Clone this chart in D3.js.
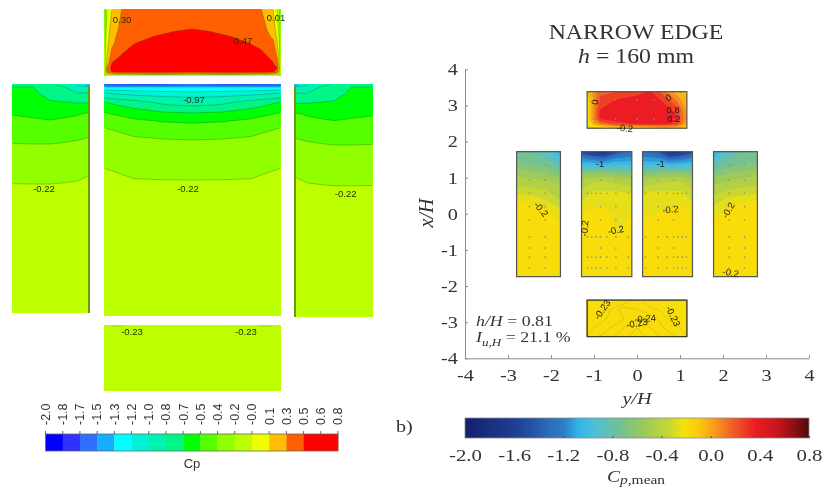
<!DOCTYPE html>
<html>
<head>
<meta charset="utf-8">
<script src="https://cdn.jsdelivr.net/npm/d3@7/dist/d3.min.js"></script>
<style>
  html, body { margin: 0; padding: 0; background: #fff; }
  svg { display: block; filter: blur(0.55px); }
</style>
</head>
<body>
<div id="chart"></div>
<script>
// ---- left panel data: Cp on each face, rows top to bottom
var simLevels = [-2, -1.835, -1.671, -1.506, -1.341, -1.176, -1.012, -0.847, -0.682, -0.518, -0.353, -0.188, -0.024, 0.141, 0.306, 0.471];
var simColors = ['#0000ff', '#3030ff', '#2f6fff', '#15aeff', '#00ffff', '#00f2d4', '#00f2b0', '#00f586', '#00ff00', '#55ff00', '#92ff00', '#bcff00', '#eeff00', '#ffbe00', '#ff5f00', '#ff0000'];
var simBarTicks = ['-2.0', '-1.8', '-1.7', '-1.5', '-1.3', '-1.2', '-1.0', '-0.8', '-0.7', '-0.5', '-0.4', '-0.2', '-0.0', '0.1', '0.3', '0.5', '0.6', '0.8'];

var roofCols = [0, 1.5, 3, 8, 18, 30, 50, 70, 88, 106, 126, 147, 157, 169, 173, 175.5, 177];
var roofRows = [0, 21, 24, 28, 36, 46, 54, 59, 63, 65, 66.5, 67];
var roofCp = [
  [-0.45, -0.20, -0.02, 0.145, 0.31, 0.33, 0.35, 0.38, 0.39, 0.38, 0.35, 0.33, 0.31, 0.145, -0.02, -0.20, -0.45],
  [-0.40, -0.08, 0.05, 0.22, 0.36, 0.41, 0.44, 0.465, 0.475, 0.465, 0.44, 0.41, 0.38, 0.23, 0.08, -0.10, -0.40],
  [-0.40, -0.07, 0.06, 0.235, 0.375, 0.42, 0.455, 0.478, 0.485, 0.478, 0.455, 0.42, 0.395, 0.25, 0.10, -0.08, -0.40],
  [-0.40, -0.05, 0.07, 0.25, 0.39, 0.44, 0.475, 0.495, 0.50, 0.495, 0.475, 0.44, 0.41, 0.28, 0.12, -0.05, -0.40],
  [-0.37, -0.02, 0.10, 0.28, 0.43, 0.475, 0.51, 0.525, 0.53, 0.525, 0.51, 0.475, 0.45, 0.37, 0.18, -0.02, -0.38],
  [-0.33, 0.02, 0.14, 0.38, 0.475, 0.51, 0.54, 0.55, 0.555, 0.55, 0.54, 0.51, 0.495, 0.44, 0.28, 0.03, -0.35],
  [-0.30, 0.05, 0.20, 0.475, 0.51, 0.54, 0.56, 0.565, 0.57, 0.565, 0.56, 0.54, 0.52, 0.475, 0.38, 0.10, -0.30],
  [-0.30, 0.10, 0.35, 0.52, 0.53, 0.56, 0.57, 0.57, 0.57, 0.57, 0.57, 0.56, 0.54, 0.51, 0.475, 0.12, -0.30],
  [-0.30, 0.10, 0.33, 0.48, 0.49, 0.50, 0.50, 0.50, 0.48, 0.50, 0.50, 0.50, 0.50, 0.48, 0.40, 0.10, -0.30],
  [-0.30, 0.00, 0.10, 0.20, 0.25, 0.26, 0.28, 0.26, 0.20, 0.26, 0.28, 0.26, 0.25, 0.20, 0.10, 0.00, -0.30],
  [-0.35, -0.20, -0.10, -0.05, -0.03, -0.05, -0.10, -0.10, -0.12, -0.10, -0.10, -0.05, -0.03, -0.05, -0.10, -0.20, -0.35],
  [-0.45, -0.40, -0.38, -0.38, -0.38, -0.38, -0.38, -0.37, -0.36, -0.37, -0.38, -0.38, -0.38, -0.38, -0.38, -0.40, -0.45]
];

var centerCols = [0, 30, 60, 88.5, 117, 147, 177];
var centerRows = [0, 3, 6, 9, 14, 18, 22, 29, 39, 44, 56, 81, 96, 140, 232];
var centerCp = [
  [-1.70, -1.72, -1.75, -1.62, -1.75, -1.72, -1.70],
  [-1.34, -1.34, -1.34, -1.34, -1.34, -1.34, -1.34],
  [-1.18, -1.21, -1.23, -1.24, -1.23, -1.21, -1.18],
  [-1.01, -1.08, -1.12, -1.14, -1.12, -1.08, -1.01],
  [-0.85, -0.92, -0.97, -0.99, -0.97, -0.92, -0.85],
  [-0.68, -0.80, -0.89, -0.92, -0.89, -0.80, -0.68],
  [-0.62, -0.73, -0.82, -0.85, -0.82, -0.73, -0.62],
  [-0.51, -0.60, -0.66, -0.68, -0.66, -0.60, -0.51],
  [-0.41, -0.46, -0.50, -0.52, -0.50, -0.46, -0.41],
  [-0.35, -0.41, -0.45, -0.47, -0.45, -0.41, -0.35],
  [-0.30, -0.33, -0.345, -0.353, -0.345, -0.33, -0.30],
  [-0.19, -0.22, -0.245, -0.25, -0.245, -0.22, -0.19],
  [-0.18, -0.185, -0.187, -0.188, -0.187, -0.185, -0.18],
  [-0.16, -0.165, -0.165, -0.165, -0.165, -0.165, -0.16],
  [-0.15, -0.15, -0.15, -0.15, -0.15, -0.15, -0.15]
];

var wallCols = [0, 21, 38, 51, 65, 78];
var wallRows = [0, 3, 9, 19, 30, 36, 53, 60, 91, 100, 140, 229];
var wallCp = [
  [-0.75, -0.72, -0.85, -0.90, -1.05, -1.60],
  [-0.68, -0.68, -0.82, -0.83, -0.97, -1.01],
  [-0.645, -0.65, -0.75, -0.77, -0.847, -0.847],
  [-0.59, -0.60, -0.66, -0.67, -0.682, -0.682],
  [-0.525, -0.54, -0.57, -0.56, -0.53, -0.49],
  [-0.49, -0.505, -0.518, -0.50, -0.485, -0.455],
  [-0.39, -0.40, -0.40, -0.385, -0.37, -0.353],
  [-0.35, -0.353, -0.353, -0.345, -0.335, -0.32],
  [-0.22, -0.225, -0.225, -0.21, -0.205, -0.188],
  [-0.187, -0.188, -0.188, -0.185, -0.18, -0.178],
  [-0.165, -0.165, -0.165, -0.165, -0.165, -0.165],
  [-0.15, -0.15, -0.15, -0.15, -0.15, -0.15]
];

var floorCols = [0, 10, 18, 32, 60, 88, 117, 145, 156, 166, 177];
var floorRows = [0, 2, 66];
var floorCp = [
  [-0.15, -0.21, -0.21, -0.15, -0.16, -0.18, -0.16, -0.15, -0.21, -0.21, -0.15],
  [-0.15, -0.16, -0.16, -0.15, -0.15, -0.15, -0.15, -0.15, -0.16, -0.16, -0.15],
  [-0.14, -0.14, -0.14, -0.14, -0.14, -0.14, -0.14, -0.14, -0.14, -0.14, -0.14]
];

var simLabels = [
  ['0.30', 'roof', 18, 11], ['0.01', 'roof', 172, 9], ['0.47', 'roof', 139, 32],
  ['-0.97', 'center', 90, 16], ['-0.22', 'center', 84, 105],
  ['-0.22', 'left', 32, 105], ['-0.22', 'right', 51, 108],
  ['-0.23', 'floor', 28, 7], ['-0.23', 'floor', 142, 7]
];

// ---- right panel data: y/H columns, x/H rows
var windLevels = [-2, -1.8, -1.6, -1.4, -1.3, -1.2, -1.1, -1, -0.9, -0.8, -0.7, -0.6, -0.5, -0.4, -0.32, -0.25, -0.1, 0, 0.1, 0.2, 0.3, 0.4, 0.5, 0.6];
var windStops = [-2, -1.6, -1.2, -1.09, -0.955, -0.79, -0.575, -0.36, -0.22, -0.11, 0.02, 0.18, 0.35, 0.54, 0.67, 0.8];
var windColors = ['#15206e', '#1f3f95', '#2f80c8', '#2fb5e8', '#4fbfd8', '#6cc0a0', '#98c860', '#c5d635', '#f7e20a', '#fbc80f', '#f79a1d', '#f05a28', '#ed1c24', '#c8141c', '#8a1015', '#4a0808'];
var xTicks = [-4, -3, -2, -1, 0, 1, 2, 3, 4];
var yTicks = [-4, -3, -2, -1, 0, 1, 2, 3, 4];
var barTicks = [-2.0, -1.6, -1.2, -0.8, -0.4, 0.0, 0.4, 0.8];

var topCols = [-1.16, -1.02, -0.86, -0.47, 0, 0.3, 0.61, 0.92, 1.16];
var topRows = [3.38, 3.15, 2.88, 2.64, 2.49, 2.37];
var topCp = [
  [-0.12, 0.02, 0.18, 0.20, 0.25, 0.32, 0.15, -0.05, -0.12],
  [-0.15, 0.00, 0.22, 0.31, 0.36, 0.38, 0.28, 0.08, -0.08],
  [-0.18, 0.02, 0.30, 0.36, 0.38, 0.38, 0.36, 0.26, -0.03],
  [-0.18, 0.03, 0.32, 0.36, 0.38, 0.38, 0.38, 0.32, 0.00],
  [-0.25, -0.05, 0.10, 0.25, 0.32, 0.34, 0.34, 0.26, -0.05],
  [-0.35, -0.30, -0.28, -0.15, -0.20, -0.15, -0.10, -0.10, -0.15]
];

var sideRows = [1.72, 1.49, 1.31, 1.03, 0.71, 0.38, 0.1, -0.22, -0.8, -1.4, -1.74];
var leftCols = [-2.8, -2.45, -2.1, -1.78];
var leftCp = [
  [-0.78, -0.80, -0.90, -1.10],
  [-0.72, -0.74, -0.80, -0.95],
  [-0.65, -0.67, -0.72, -0.82],
  [-0.50, -0.52, -0.55, -0.62],
  [-0.38, -0.39, -0.42, -0.46],
  [-0.25, -0.28, -0.32, -0.40],
  [-0.17, -0.20, -0.25, -0.31],
  [-0.15, -0.16, -0.18, -0.25],
  [-0.14, -0.14, -0.14, -0.15],
  [-0.14, -0.14, -0.16, -0.24],
  [-0.14, -0.16, -0.26, -0.27]
];
var rightCols = [1.78, 2.1, 2.45, 2.8];
var rightCp = [
  [-1.10, -0.90, -0.80, -0.78],
  [-0.95, -0.80, -0.74, -0.72],
  [-0.82, -0.72, -0.67, -0.65],
  [-0.62, -0.55, -0.52, -0.50],
  [-0.46, -0.42, -0.39, -0.38],
  [-0.36, -0.30, -0.27, -0.25],
  [-0.29, -0.24, -0.19, -0.17],
  [-0.25, -0.18, -0.16, -0.15],
  [-0.15, -0.14, -0.14, -0.14],
  [-0.15, -0.14, -0.14, -0.14],
  [-0.16, -0.16, -0.18, -0.20]
];

var midRows = [1.72, 1.58, 1.40, 1.26, 1.12, 0.94, 0.57, 0.20, -0.03, -0.25, -0.63, -1.4, -1.74];
var midLeftCols = [-1.29, -1.0, -0.75, -0.49, -0.12];
var midLeftCp = [
  [-1.45, -1.65, -1.75, -1.45, -1.30],
  [-1.25, -1.35, -1.40, -1.25, -1.20],
  [-1.05, -1.08, -1.10, -1.05, -1.05],
  [-0.85, -0.85, -0.85, -0.85, -0.88],
  [-0.65, -0.62, -0.62, -0.65, -0.68],
  [-0.48, -0.42, -0.42, -0.44, -0.48],
  [-0.36, -0.30, -0.30, -0.30, -0.32],
  [-0.30, -0.25, -0.26, -0.28, -0.30],
  [-0.24, -0.17, -0.18, -0.26, -0.26],
  [-0.20, -0.16, -0.17, -0.28, -0.22],
  [-0.17, -0.15, -0.16, -0.25, -0.18],
  [-0.15, -0.15, -0.20, -0.20, -0.15],
  [-0.16, -0.16, -0.27, -0.26, -0.18]
];
var midRightCols = [0.13, 0.49, 0.75, 1.0, 1.29];
var midRightCp = [
  [-1.30, -1.40, -1.75, -1.65, -1.45],
  [-1.20, -1.25, -1.40, -1.35, -1.25],
  [-1.05, -1.05, -1.10, -1.08, -1.05],
  [-0.88, -0.85, -0.85, -0.85, -0.85],
  [-0.68, -0.65, -0.62, -0.62, -0.65],
  [-0.48, -0.44, -0.42, -0.42, -0.48],
  [-0.32, -0.30, -0.30, -0.30, -0.36],
  [-0.30, -0.28, -0.26, -0.24, -0.30],
  [-0.26, -0.24, -0.20, -0.17, -0.26],
  [-0.20, -0.18, -0.16, -0.16, -0.20],
  [-0.15, -0.15, -0.15, -0.15, -0.16],
  [-0.15, -0.15, -0.15, -0.15, -0.15],
  [-0.15, -0.15, -0.15, -0.15, -0.15]
];

var lowCols = [-1.16, -0.7, -0.3, 0, 0.3, 0.7, 1.16];
var lowRows = [-2.39, -2.65, -2.9, -3.15, -3.4];
var lowCp = [
  [-0.23, -0.23, -0.23, -0.235, -0.23, -0.23, -0.23],
  [-0.23, -0.232, -0.238, -0.236, -0.234, -0.232, -0.23],
  [-0.23, -0.233, -0.236, -0.24, -0.238, -0.233, -0.23],
  [-0.232, -0.235, -0.24, -0.245, -0.24, -0.235, -0.232],
  [-0.233, -0.238, -0.243, -0.248, -0.243, -0.238, -0.233]
];
var lowIsolines = [-0.245, -0.24, -0.236, -0.233];

// pressure taps
var tapRows = [1.35, 0.93, 0.2, -0.17, -0.95];
var tapRowsDense = [0.57, -0.64, -1.2, -1.5];
var tapsSide = [-2.5, -2.14, 2.14, 2.5];
var tapsMid = [-0.85, -0.49, 0.49, 0.85];
var tapsMidDense = [-1.15, -1.05, -0.95, -0.85, -0.7, -0.49, -0.2, 0.2, 0.49, 0.7, 0.85, 0.95, 1.05, 1.15];
var tapsTop = [-1.0, -0.5, 0, 0.4, 0.85];
var tapsTopRows = [3.15, 2.62];

var windLabels = [
  ['0', -0.98, 3.09, -85], ['0', 0.73, 3.22, -30], ['0.8', 0.84, 2.88, 0], ['0.2', 0.86, 2.63, 0], ['-0.2', -0.28, 2.37, 5],
  ['-1', -0.86, 1.38, 0], ['-1', 0.55, 1.38, 0],
  ['-0.2', -2.23, 0.13, 50], ['-0.2', -1.22, -0.4, -85], ['-0.2', -0.49, -0.45, -10], ['-0.2', 0.78, 0.12, -5], ['-0.2', 2.12, 0.1, -60], ['-0.2', 2.18, -1.63, 10],
  ['-0.23', -0.81, -2.65, -55], ['-0.23', 0.84, -2.83, 65], ['-0.24', 0.19, -2.9, -5], ['-0.23', 0, -3.03, -10]
];

var svg = d3.select('#chart').append('svg').attr('width', 829).attr('height', 491);
var defs = svg.append('defs');
var sans = 'Liberation Sans, Arial, sans-serif';
var serif = 'Liberation Serif, Times New Roman, serif';
var stretch = 1.19; // the right panel is wider than tall in the source
var clipCount = 0;

// grid index -> px. d3.contours puts cell i at i+0.5, the ends collapse onto the face edge
function gridScale(stations, toPx) {
  var dom = [0], rng = [toPx(stations[0])];
  stations.forEach(function (s, i) {
    dom.push(i + 0.5);
    rng.push(toPx(s));
  });
  dom.push(stations.length);
  rng.push(toPx(stations[stations.length - 1]));
  return d3.scaleLinear().domain(dom).range(rng);
}

function contoursOf(cols, rows, grid, levels) {
  return d3.contours()
    .size([cols.length, rows.length])
    .smooth(true)
    .thresholds(levels)(d3.merge(grid));
}

function facePath(cols, rows, toX, toY) {
  var gx = gridScale(cols, toX), gy = gridScale(rows, toY);
  return d3.geoPath(d3.geoTransform({
    point: function (x, y) { this.stream.point(gx(x), gy(y)); }
  }));
}

function drawBands(cols, rows, grid, levels, fillOf, toX, toY, line) {
  var path = facePath(cols, rows, toX, toY);
  var shapes = contoursOf(cols, rows, grid, levels);
  var g = svg.append('g');
  g.selectAll('path.band')
    .data(shapes)
    .enter()
    .append('path')
    .attr('class', 'band')
    .attr('d', path)
    .attr('fill', function (d, i) { return fillOf(levels[i], i); });
  if (line) {
    // isolines only, clipped so the face edge stays clean
    var id = 'faceclip' + (clipCount++);
    var x0 = toX(cols[0]), x1 = toX(cols[cols.length - 1]), y0 = toY(rows[0]), y1 = toY(rows[rows.length - 1]);
    defs.append('clipPath').attr('id', id).append('rect')
      .attr('x', x0 + 1).attr('y', y0 + 1).attr('width', x1 - x0 - 2).attr('height', y1 - y0 - 2);
    g.append('g').attr('clip-path', 'url(#' + id + ')')
      .selectAll('path')
      .data(shapes)
      .enter()
      .append('path')
      .attr('d', path)
      .attr('fill', 'none')
      .attr('stroke', line)
      .attr('stroke-width', 0.6);
  }
  return g;
}

// ---- left panel
var faces = {
  roof: { x: 104, y: 9, w: 177, h: 67, cols: roofCols, rows: roofRows, cp: roofCp },
  center: { x: 104, y: 84, w: 177, h: 232, cols: centerCols, rows: centerRows, cp: centerCp },
  left: { x: 12, y: 84, w: 78, h: 229, cols: wallCols, rows: wallRows, cp: wallCp },
  right: {
    x: 294, y: 84, w: 79, h: 233,
    cols: wallCols.map(function (c) { return 78 - c; }).reverse(),
    rows: wallRows,
    cp: wallCp.map(function (r) { return r.slice().reverse(); })
  },
  floor: { x: 104, y: 325, w: 177, h: 66, cols: floorCols, rows: floorRows, cp: floorCp }
};

Object.keys(faces).forEach(function (name) {
  var f = faces[name];
  var toX = d3.scaleLinear().domain([f.cols[0], f.cols[f.cols.length - 1]]).range([f.x, f.x + f.w]);
  var toY = d3.scaleLinear().domain([f.rows[0], f.rows[f.rows.length - 1]]).range([f.y, f.y + f.h]);
  f.toX = toX;
  f.toY = toY;
  drawBands(f.cols, f.rows, f.cp, simLevels, function (t, i) { return simColors[i]; }, toX, toY, 'rgba(0,70,20,0.45)');
});

// dark seam along the wall edge next to the centre face
svg.selectAll('line.seam')
  .data([faces.left.x + faces.left.w - 1, faces.right.x + 1])
  .enter()
  .append('line')
  .attr('class', 'seam')
  .attr('x1', function (d) { return d; })
  .attr('x2', function (d) { return d; })
  .attr('y1', 86)
  .attr('y2', function (d, i) { return i ? 317 : 313; })
  .attr('stroke', '#6b9a12')
  .attr('stroke-width', 2);

svg.selectAll('text.sim')
  .data(simLabels)
  .enter()
  .append('text')
  .attr('class', 'sim')
  .attr('x', function (d) { return faces[d[1]].toX(d[2]); })
  .attr('y', function (d) { return faces[d[1]].toY(d[3]); })
  .attr('dy', '0.35em')
  .attr('text-anchor', 'middle')
  .attr('font-family', sans)
  .attr('font-size', 9.5)
  .attr('fill', '#263300')
  .text(function (d) { return d[0]; });

// left colour bar
var simBar = d3.scaleLinear().domain([-2, 0.8]).range([45.5, 338]);
var simBarY = 434, simBarH = 17;
svg.append('g')
  .selectAll('rect')
  .data(simLevels.concat([0.635]))
  .enter()
  .append('rect')
  .attr('x', function (d) { return simBar(d); })
  .attr('y', simBarY)
  .attr('width', (338 - 45.5) / 17 + 0.3)
  .attr('height', simBarH)
  .attr('fill', function (d, i) { return simColors[Math.min(i, simColors.length - 1)]; });
svg.append('rect')
  .attr('x', 45.5).attr('y', simBarY).attr('width', 292.5).attr('height', simBarH)
  .attr('fill', 'none').attr('stroke', '#666').attr('stroke-width', 0.8);

var simBarPos = d3.scaleLinear().domain([0, simBarTicks.length - 1]).range([45.5, 338]);
var simTick = svg.append('g').selectAll('g').data(simBarTicks).enter().append('g')
  .attr('transform', function (d, i) { return 'translate(' + simBarPos(i) + ',' + simBarY + ')'; });
simTick.append('line').attr('y2', -3).attr('stroke', '#444').attr('stroke-width', 0.8);
simTick.append('text')
  .attr('transform', 'rotate(-90)')
  .attr('x', 9)
  .attr('dy', '0.35em')
  .attr('font-family', sans)
  .attr('font-size', 12.5)
  .attr('fill', '#333')
  .text(function (d) { return d; });
svg.append('text')
  .attr('x', 192).attr('y', 468)
  .attr('text-anchor', 'middle')
  .attr('font-family', sans)
  .attr('font-size', 13)
  .attr('fill', '#333')
  .text('Cp');

// ---- right panel
var x = d3.scaleLinear().domain([-4, 4]).range([465, 809]);
var y = d3.scaleLinear().domain([-4, 4]).range([358.3, 69.3]);
var colorCp = d3.scaleLinear().domain(windStops).range(windColors);
function windFill(t) { return colorCp(t + 0.05); }

var windFaces = [
  [topCols, topRows, topCp],
  [leftCols, sideRows, leftCp],
  [midLeftCols, midRows, midLeftCp],
  [midRightCols, midRows, midRightCp],
  [rightCols, sideRows, rightCp],
  [lowCols, lowRows, lowCp]
];
windFaces.forEach(function (f) {
  drawBands(f[0], f[1], f[2], windLevels, windFill, x, y);
});

// faint isolines on the low face
var lowPath = facePath(lowCols, lowRows, x, y);
svg.append('g').selectAll('path')
  .data(contoursOf(lowCols, lowRows, lowCp, lowIsolines))
  .enter()
  .append('path')
  .attr('d', lowPath)
  .attr('fill', 'none')
  .attr('stroke', '#c9b92a')
  .attr('stroke-width', 0.6);

// taps
var taps = [];
tapsSide.forEach(function (c) { tapRows.concat(tapRowsDense).forEach(function (r) { taps.push([c, r]); }); });
tapsMid.forEach(function (c) { tapRows.forEach(function (r) { taps.push([c, r]); }); });
tapsMidDense.forEach(function (c) { tapRowsDense.forEach(function (r) { taps.push([c, r]); }); });
tapsTop.forEach(function (c) { tapsTopRows.forEach(function (r) { taps.push([c, r]); }); });
svg.append('g').selectAll('circle')
  .data(taps)
  .enter()
  .append('circle')
  .attr('cx', function (d) { return x(d[0]); })
  .attr('cy', function (d) { return y(d[1]); })
  .attr('r', 0.8)
  .attr('fill', '#8d8d80');

// face borders
svg.append('g').selectAll('rect')
  .data(windFaces)
  .enter()
  .append('rect')
  .attr('x', function (d) { return x(d[0][0]); })
  .attr('y', function (d) { return y(d[1][0]); })
  .attr('width', function (d) { return x(d[0][d[0].length - 1]) - x(d[0][0]); })
  .attr('height', function (d) { return y(d[1][d[1].length - 1]) - y(d[1][0]); })
  .attr('fill', 'none')
  .attr('stroke', function (d, i) { return i === 5 ? '#3a3a20' : '#555'; })
  .attr('stroke-width', 1.2);

svg.selectAll('text.wind')
  .data(windLabels)
  .enter()
  .append('text')
  .attr('class', 'wind')
  .attr('transform', function (d) {
    return 'translate(' + x(d[1]) + ',' + y(d[2]) + ') rotate(' + d[3] + ')';
  })
  .attr('dy', '0.35em')
  .attr('text-anchor', 'middle')
  .attr('font-family', sans)
  .attr('font-size', 9.5)
  .attr('fill', '#1c1c14')
  .text(function (d) { return d[0]; });

// axes
var xAxis = d3.axisBottom(x).tickValues(xTicks).tickFormat(d3.format('d')).tickSizeInner(-3).tickSizeOuter(0).tickPadding(11);
var yAxis = d3.axisLeft(y).tickValues(yTicks).tickFormat(d3.format('d')).tickSizeInner(-3).tickSizeOuter(0).tickPadding(6);
function styleAxis(g) {
  g.selectAll('path, line').attr('stroke', '#8a8a8a');
  g.selectAll('text')
    .attr('font-family', serif)
    .attr('font-size', 17)
    .attr('fill', '#333')
    .attr('transform', 'scale(' + stretch + ',1)')
    .text(function (d) { return String(d); });
}
svg.append('g').attr('transform', 'translate(0,358.3)').call(xAxis).call(styleAxis);
svg.append('g').attr('transform', 'translate(465,0)').call(yAxis).call(styleAxis);

function serifText(tx, ty, size, parts, anchor) {
  var t = svg.append('text')
    .attr('transform', 'translate(' + tx + ',' + ty + ') scale(' + stretch + ',1)')
    .attr('text-anchor', anchor || 'middle')
    .attr('font-family', serif)
    .attr('font-size', size)
    .attr('fill', '#333');
  parts.forEach(function (p) {
    t.append('tspan')
      .attr('font-style', p.italic ? 'italic' : 'normal')
      .attr('font-size', p.size || size)
      .attr('dy', p.dy || 0)
      .text(p.text);
  });
  return t;
}

serifText(636, 39, 20, [{ text: 'NARROW EDGE' }]);
serifText(636, 63, 20, [{ text: 'h', italic: true }, { text: ' = 160 mm' }]);
serifText(637, 404, 17, [{ text: 'y/H', italic: true }]);
serifText(0, 0, 20, [{ text: 'x/H', italic: true }]).attr('transform', 'translate(433,213) rotate(-90)');
serifText(476, 326, 15, [{ text: 'h/H', italic: true }, { text: ' = 0.81' }], 'start');
serifText(476, 342, 15, [
  { text: 'I', italic: true },
  { text: 'u,H', italic: true, size: 11, dy: 4 },
  { text: ' = 21.1 %', dy: -4 }
], 'start');
serifText(396, 432, 17, [{ text: 'b)' }], 'start');

// right colour bar
var bar = d3.scaleLinear().domain([-2, 0.8]).range([465, 809]);
var barY = 418, barH = 20;
svg.append('g').selectAll('rect')
  .data(d3.range(-2, 0.8, 0.025))
  .enter()
  .append('rect')
  .attr('x', function (d) { return bar(d); })
  .attr('y', barY)
  .attr('width', function (d) { return Math.min(bar(d + 0.025) + 1, 809) - bar(d); })
  .attr('height', barH)
  .attr('fill', function (d) { return colorCp(d); });
svg.append('rect')
  .attr('x', 465).attr('y', barY).attr('width', 344).attr('height', barH)
  .attr('fill', 'none').attr('stroke', '#8a8a8a').attr('stroke-width', 0.8);
var barAxis = d3.axisBottom(bar).tickValues(barTicks).tickFormat(d3.format('.1f')).tickSizeInner(-2).tickSizeOuter(0).tickPadding(11);
svg.append('g').attr('transform', 'translate(0,' + (barY + barH) + ')')
  .call(barAxis)
  .call(function (g) {
    g.select('.domain').remove();
    g.selectAll('line').attr('stroke', '#555');
    g.selectAll('text')
      .attr('font-family', serif)
      .attr('font-size', 17.5)
      .attr('transform', 'scale(' + stretch + ',1)')
      .attr('fill', '#333')
      .text(function (d) { return d.toFixed(1); });
  });
serifText(636, 482, 16.5, [
  { text: 'C', italic: true },
  { text: 'p', italic: true, size: 13, dy: 2 },
  { text: ',mean', size: 13 }
]);
</script>
</body>
</html>
